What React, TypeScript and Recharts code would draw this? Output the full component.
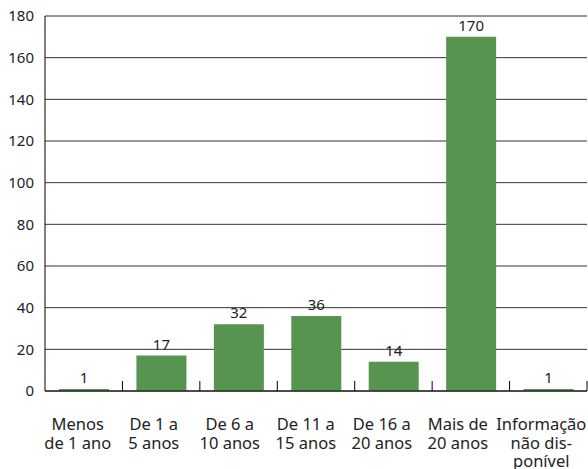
import { BarChart, Bar, XAxis, YAxis, CartesianGrid, LabelList } from 'recharts';

const categories = [
  'Menos\nde 1 ano',
  'De 1 a\n5 anos',
  'De 6 a\n10 anos',
  'De 11 a\n15 anos',
  'De 16 a\n20 anos',
  'Mais de\n20 anos',
  'Informação\nnão dis-\nponível',
];
const values = [1, 17, 32, 36, 14, 170, 1];
const yTicks = [0, 20, 40, 60, 80, 100, 120, 140, 160, 180];

const data = categories.map((name, i) => ({ name, value: values[i] }));

const FONT = '"Noto Sans", sans-serif';

// category labels sit slightly left of the bar centres in the original,
// the last one only a little so it stays inside the frame
function CategoryTick(props: any) {
  const { x, y, payload, index } = props;
  const half = payload.offset || 0;
  const lines = String(payload.value).split('\n');
  const isLast = index === categories.length - 1;
  const cx = isLast ? x - 7 : x - 6 - 1.4 * index;
  const edge = x + half;
  return (
    <g>
      <line x1={edge} x2={edge} y1={y} y2={y - 10} stroke="#000" strokeWidth={1} />
      <text x={cx} y={y} textAnchor="middle" fill="#222" fontSize={16.5} fontFamily={FONT}>
        {lines.map((l, i) => (
          <tspan key={i} x={cx} dy={i === 0 ? 39 : 18.5}>
            {l}
          </tspan>
        ))}
      </text>
    </g>
  );
}

export default function App() {
  return (
    <div style={{ position: 'absolute', left: 0, top: 0 }}>
      <BarChart
        width={588}
        height={469}
        data={data}
        margin={{ top: 16, right: 1, left: 0, bottom: 0 }}
        barSize={50}
      >
        <CartesianGrid vertical={false} stroke="#333" strokeWidth={1} />
        <XAxis
          dataKey="name"
          height={78}
          interval={0}
          tickSize={0}
          tickMargin={0}
          tick={<CategoryTick />}
          tickLine={false}
          axisLine={{ stroke: '#000' }}
        />
        <YAxis
          domain={[0, 180]}
          ticks={yTicks}
          width={45}
          tickLine={false}
          tickMargin={5}
          axisLine={{ stroke: '#000' }}
          tick={{ fill: '#222', fontSize: 15, fontFamily: FONT }}
        />
        <Bar dataKey="value" fill="#56944f" isAnimationActive={false}>
          <LabelList
            dataKey="value"
            position="top"
            offset={6}
            fill="#222"
            fontSize={15}
            fontFamily={FONT}
          />
        </Bar>
      </BarChart>
    </div>
  );
}
